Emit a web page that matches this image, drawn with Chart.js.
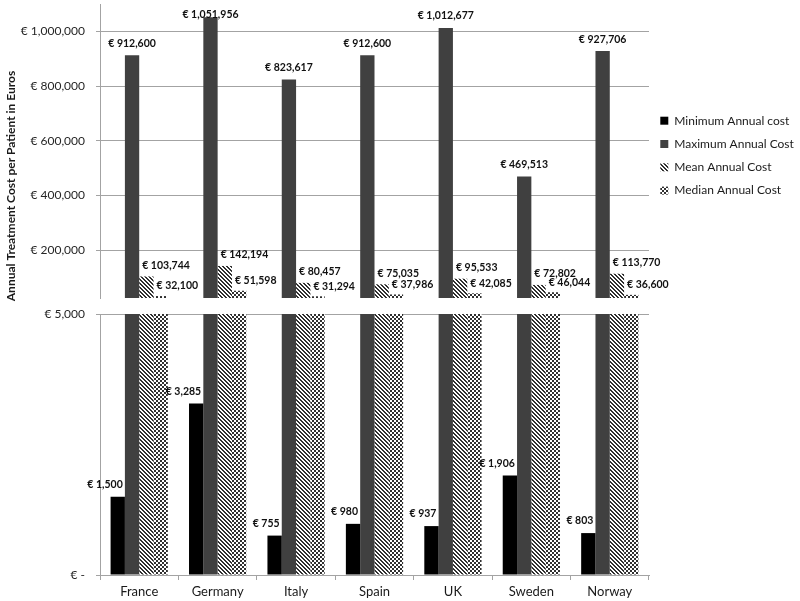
<!DOCTYPE html>
<html>
<head>
<meta charset="utf-8">
<script src="https://cdn.jsdelivr.net/npm/chart.js@4.4.1/dist/chart.umd.min.js"></script>
<style>
  html, body { margin: 0; padding: 0; background: #fff; }
</style>
</head>
<body>
<canvas id="myChart" width="800" height="601"></canvas>
<script>
const countries = ["France", "Germany", "Italy", "Spain", "UK", "Sweden", "Norway"];
const minimum_cost = [1500, 3285, 755, 980, 937, 1906, 803];
const maximum_cost = [912600, 1051956, 823617, 912600, 1012677, 469513, 927706];
const mean_cost = [103744, 142194, 80457, 75035, 95533, 72802, 113770];
const median_cost = [32100, 51598, 31294, 37986, 42085, 46044, 36600];
const series_names = ["Minimum Annual cost", "Maximum Annual Cost", "Mean Annual Cost", "Median Annual Cost"];
const high_ticks = [200000, 400000, 600000, 800000, 1000000];
const low_ticks = [0, 5000];
const y_title = "Annual Treatment Cost per Patient in Euros";

const FONT = "Lato, 'Open Sans', sans-serif";
const GRID = "#a3a3a3";

function euro(v) {
  return v === 0 ? "€ -" : "€ " + v.toLocaleString("en-US");
}

// small bitmap tiles for the hatched bars
function makePattern(size, isDark) {
  let c = document.createElement("canvas");
  c.width = size;
  c.height = size;
  let g = c.getContext("2d");
  g.fillStyle = "#ffffff";
  g.fillRect(0, 0, size, size);
  g.fillStyle = "#303030";
  for (let y = 0; y < size; y++) {
    for (let x = 0; x < size; x++) {
      if (isDark(x, y)) g.fillRect(x, y, 1, 1);
    }
  }
  return g.createPattern(c, "repeat");
}

const meanPattern = makePattern(4, (x, y) => (x - y + 8) % 4 < 2);
const medianPattern = makePattern(4, (x, y) => (x % 4 < 2 && y % 4 < 2) || (x % 4 >= 2 && y % 4 >= 2));

const colors = ["#000000", "#404040", meanPattern, medianPattern];
const values = [minimum_cost, maximum_cost, mean_cost, median_cost];

// every series is drawn twice: once on the low (0-5,000) axis, once on the high one
let datasets = [];
["yLow", "yHigh"].forEach((axis) => {
  values.forEach((v, i) => {
    datasets.push({
      label: series_names[i],
      data: v,
      backgroundColor: colors[i],
      borderWidth: 0,
      yAxisID: axis,
      stack: "s" + i,
    });
  });
});

const clipToAxis = {
  id: "clipToAxis",
  beforeDatasetDraw(chart, args) {
    const ys = args.meta.yScale;
    const ctx = chart.ctx;
    ctx.save();
    ctx.beginPath();
    ctx.rect(chart.chartArea.left, ys.top, chart.chartArea.width, ys.height);
    ctx.clip();
  },
  afterDatasetDraw(chart) {
    chart.ctx.restore();
  },
};

const barLabels = {
  id: "barLabels",
  afterDatasetsDraw(chart) {
    const ctx = chart.ctx;
    const area = chart.chartArea;
    ctx.save();
    ctx.font = "bold 10.5px " + FONT;
    ctx.fillStyle = "#111";
    ctx.textBaseline = "middle";

    ctx.textAlign = "right";
    chart.getDatasetMeta(0).data.forEach((bar, i) => {
      ctx.fillText(euro(minimum_cost[i]), bar.x + 5, bar.y - 12);
    });

    ctx.textAlign = "center";
    chart.getDatasetMeta(5).data.forEach((bar, i) => {
      ctx.fillText(euro(maximum_cost[i]), bar.x, Math.max(bar.y - 12, area.top + 11));
    });

    ctx.textAlign = "left";
    chart.getDatasetMeta(6).data.forEach((bar, i) => {
      ctx.fillText(euro(mean_cost[i]), bar.x - bar.width / 2 + 3, bar.y - 11);
    });
    chart.getDatasetMeta(7).data.forEach((bar, i) => {
      ctx.fillText(euro(median_cost[i]), bar.x - bar.width / 2 + 3, bar.y - 10);
    });
    ctx.restore();
  },
};

const axisTitle = {
  id: "axisTitle",
  afterDraw(chart) {
    const ctx = chart.ctx;
    ctx.save();
    ctx.translate(11, 186);
    ctx.rotate(-Math.PI / 2);
    ctx.font = "bold 12px " + FONT;
    ctx.fillStyle = "#1a1a1a";
    ctx.textAlign = "center";
    ctx.textBaseline = "middle";
    ctx.fillText(y_title, 0, 0);
    ctx.restore();
  },
};

function noPadding(scale) {
  scale.paddingTop = 0;
  scale.paddingBottom = 0;
}

function yScale(min, max, tickList, weight) {
  return {
    type: "linear",
    position: "left",
    stack: "v",
    stackWeight: weight,
    stacked: false,
    min: min,
    max: max,
    afterBuildTicks: (scale) => {
      scale.ticks = tickList.map((v) => ({ value: v }));
    },
    afterFit: (scale) => {
      scale.width = 100;
      noPadding(scale);
    },
    grid: { color: GRID, tickLength: 4, lineWidth: 1 },
    border: { display: true, color: GRID },
    ticks: {
      padding: 11,
      color: "#262626",
      font: { family: FONT, size: 12 },
      callback: (v) => euro(v),
    },
  };
}

let ctx = document.getElementById("myChart").getContext("2d");
let myChart = new Chart(ctx, {
  type: "bar",
  data: { labels: countries, datasets: datasets },
  plugins: [clipToAxis, barLabels, axisTitle],
  options: {
    responsive: false,
    animation: false,
    devicePixelRatio: 1,
    layout: { padding: { top: 4, bottom: 2, left: 0, right: 0 } },
    datasets: { bar: { categoryPercentage: 0.73, barPercentage: 1.0 } },
    scales: {
      x: {
        type: "category",
        offset: true,
        afterFit: (scale) => {
          scale.height = 24;
          scale.paddingLeft = 0;
          scale.paddingRight = 0;
        },
        grid: { offset: true, drawOnChartArea: false, tickLength: 5, color: GRID },
        border: { color: GRID },
        ticks: { padding: 4, color: "#1a1a1a", font: { family: FONT, size: 13 } },
      },
      yLow: yScale(0, 5000, low_ticks, 261),
      yGap: {
        type: "linear",
        position: "left",
        stack: "v",
        stackWeight: 16,
        afterFit: (scale) => {
          scale.width = 100;
          noPadding(scale);
        },
        grid: { display: false },
        border: { display: false },
        ticks: { display: false },
      },
      yHigh: yScale(25000, 1100000, high_ticks, 294),
    },
    plugins: {
      tooltip: { enabled: false },
      legend: {
        position: "right",
        align: "start",
        maxWidth: 151,
        title: { display: true, text: " ", padding: { top: 85, bottom: 0 }, font: { size: 12 } },
        labels: {
          boxWidth: 8,
          boxHeight: 8,
          padding: 11.3,
          color: "#1a1a1a",
          font: { family: FONT, size: 12 },
          filter: (item) => item.datasetIndex < 4,
        },
      },
    },
  },
});
</script>
</body>
</html>
